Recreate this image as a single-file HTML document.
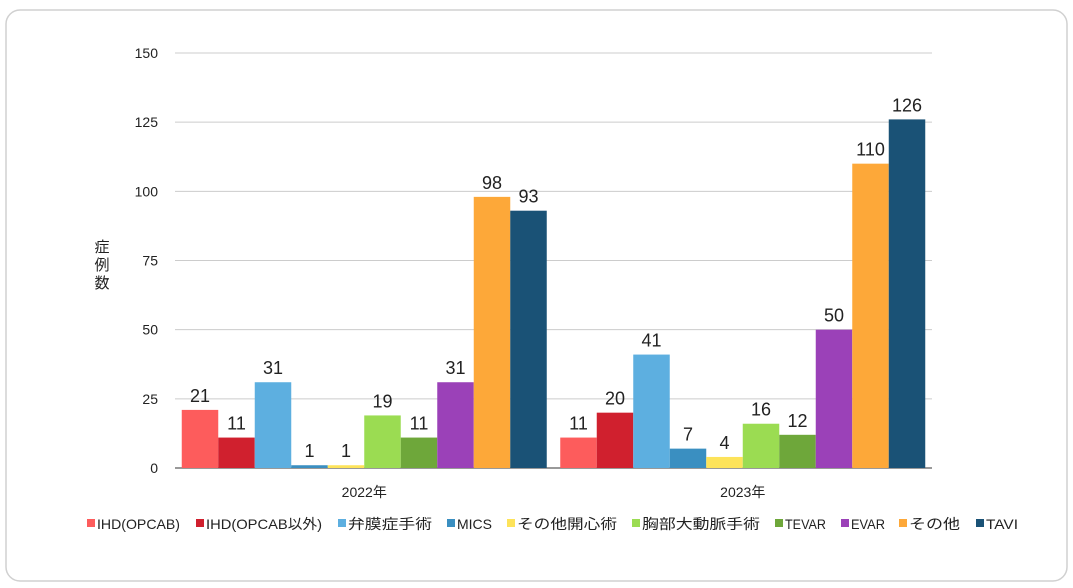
<!DOCTYPE html>
<html><head><meta charset="utf-8"><style>
body{margin:0;background:#fff;}
svg{display:block;font-family:"Liberation Sans","Noto Sans CJK JP",sans-serif;}
</style></head><body>
<svg id="chart" width="1073" height="588" viewBox="0 0 1073 588">
<rect x="6" y="10" width="1061" height="571" rx="14" fill="#fff" stroke="#d0d0d0" stroke-width="1.5"/>
<g id="grid"></g><g id="bars"></g><g id="labels"></g><g id="legend"></g>
<text x="102" y="270" font-size="15" fill="#222" text-anchor="middle"><tspan x="102" dy="-18">症</tspan><tspan x="102" dy="18">例</tspan><tspan x="102" dy="18">数</tspan></text>
</svg>
<script>
const categories=["2022年","2023年"];
const seriesNames=["IHD(OPCAB)","IHD(OPCAB以外)","弁膜症手術","MICS","その他開心術","胸部大動脈手術","TEVAR","EVAR","その他","TAVI"];
const v2022=[21,11,31,1,1,19,11,31,98,93];
const v2023=[11,20,41,7,4,16,12,50,110,126];
const yTicks=[0,25,50,75,100,125,150];
const colors=["#fd5c5c","#d0202e","#5dafe0","#3a8fc1","#fde35a","#9bdc52","#6ea73a","#9b41b8","#fda839","#1a5276"];
const NS="http://www.w3.org/2000/svg";
const X0=175,X1=932,Y0=468,Y1=53,YMAX=150;
const y=v=>Y0-(v/YMAX)*(Y0-Y1);
const catW=(X1-X0)/categories.length, barW=36.5;
function mk(tag,attrs,parent){const e=document.createElementNS(NS,tag);for(const k in attrs)e.setAttribute(k,attrs[k]);parent.appendChild(e);return e;}
const grid=document.getElementById('grid'),bars=document.getElementById('bars'),labels=document.getElementById('labels'),legend=document.getElementById('legend');
yTicks.forEach(t=>{
  const l=mk('line',{x1:X0,x2:X1,y1:y(t),y2:y(t),stroke:t===0?'#333':'#ccc','stroke-width':1},grid);
  
  
  const tx=mk('text',{x:158,y:y(t)+5,'font-size':14,fill:'#222','text-anchor':'end'},grid);
  tx.textContent=t;
  
  
});
[v2022,v2023].forEach((vals,ci)=>{
  const start=X0+ci*catW+(catW-barW*vals.length)/2;
  vals.forEach((v,si)=>{
    const bx=start+si*barW;
    const r=mk('rect',{x:bx,y:y(v),width:barW,height:Y0-y(v),fill:colors[si]},bars);
    
    
    const t=mk('text',{x:bx+barW/2,y:y(v)-8,'font-size':18,fill:'#222','text-anchor':'middle'},labels);
    t.textContent=v;
    
    
  });
  const ct=mk('text',{x:X0+ci*catW+catW/2,y:497,'font-size':14,fill:'#222','text-anchor':'middle'},labels);
  ct.textContent=categories[ci];
  
  
});
const legX=[87,196,338,447,507,632,775,841,899,976];
const legW=[83,116,84,35,100,118,41,34,51,32];
seriesNames.forEach((n,i)=>{
  const g=mk('g',{},legend);
  
  
  mk('rect',{x:legX[i],y:519,width:8,height:8,fill:colors[i]},g);
  const t=mk('text',{x:legX[i]+10,y:529,'font-size':14,fill:'#222',textLength:legW[i],lengthAdjust:'spacingAndGlyphs'},g);
  t.textContent=n;
});
</script>
</body></html>
